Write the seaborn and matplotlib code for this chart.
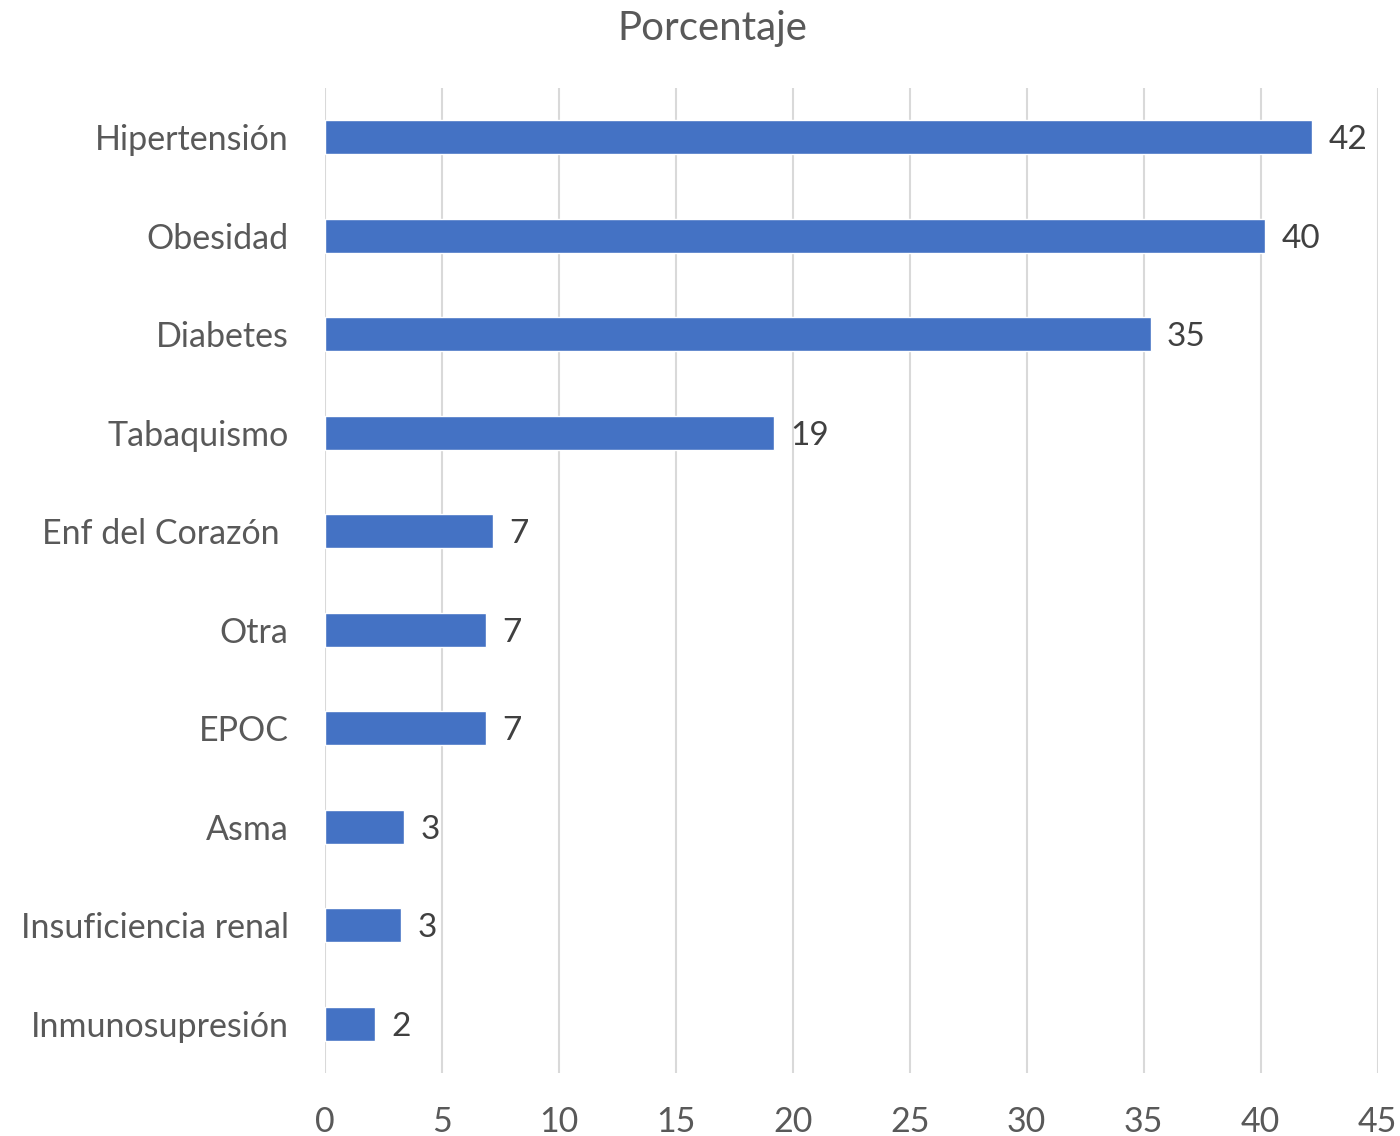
import pandas as pd
import matplotlib.pyplot as plt
import seaborn as sns

# data (bar lengths) and the labels printed next to them
categories = ['Hipertensión', 'Obesidad', 'Diabetes', 'Tabaquismo', 'Enf del Corazón ',
              'Otra', 'EPOC', 'Asma', 'Insuficiencia renal', 'Inmunosupresión']
values = [42.2, 40.2, 35.3, 19.2, 7.2, 6.9, 6.9, 3.4, 3.25, 2.15]
value_labels = ['42', '40', '35', '19', '7', '7', '7', '3', '3', '2']
x_ticks = [0, 5, 10, 15, 20, 25, 30, 35, 40, 45]

df = pd.DataFrame({'categoria': categories, 'porcentaje': values})

sns.set_style('white')
plt.rcParams['font.family'] = ['Lato', 'DejaVu Sans']

fig = plt.figure(figsize=(14, 11.36), dpi=100)
ax = fig.add_axes([0.232, 0.0555, 0.752, 0.867])

sns.barplot(data=df, x='porcentaje', y='categoria', color='#4472C4',
            saturation=1, width=0.345, ax=ax)

for i, (v, lab) in enumerate(zip(values, value_labels)):
    ax.text(v + 0.7, i, lab, va='center_baseline', ha='left', fontsize=24, color='#404040')

ax.set_xlim(0, 45)
ax.set_ylim(9.5, -0.5)
ax.set_xticks(x_ticks)
ax.xaxis.grid(True, color='#D9D9D9', linewidth=1.5)
ax.set_axisbelow(True)
for s in ax.spines.values():
    s.set_visible(False)
ax.tick_params(axis='both', length=0, labelsize=24.5, colors='#595959')
ax.tick_params(axis='x', pad=24)
ax.tick_params(axis='y', pad=26)
ax.set_xlabel('')
ax.set_ylabel('')

fig.text(0.509, 0.975, 'Porcentaje', ha='center', va='center', fontsize=29, color='#595959')

plt.savefig('out.png')
